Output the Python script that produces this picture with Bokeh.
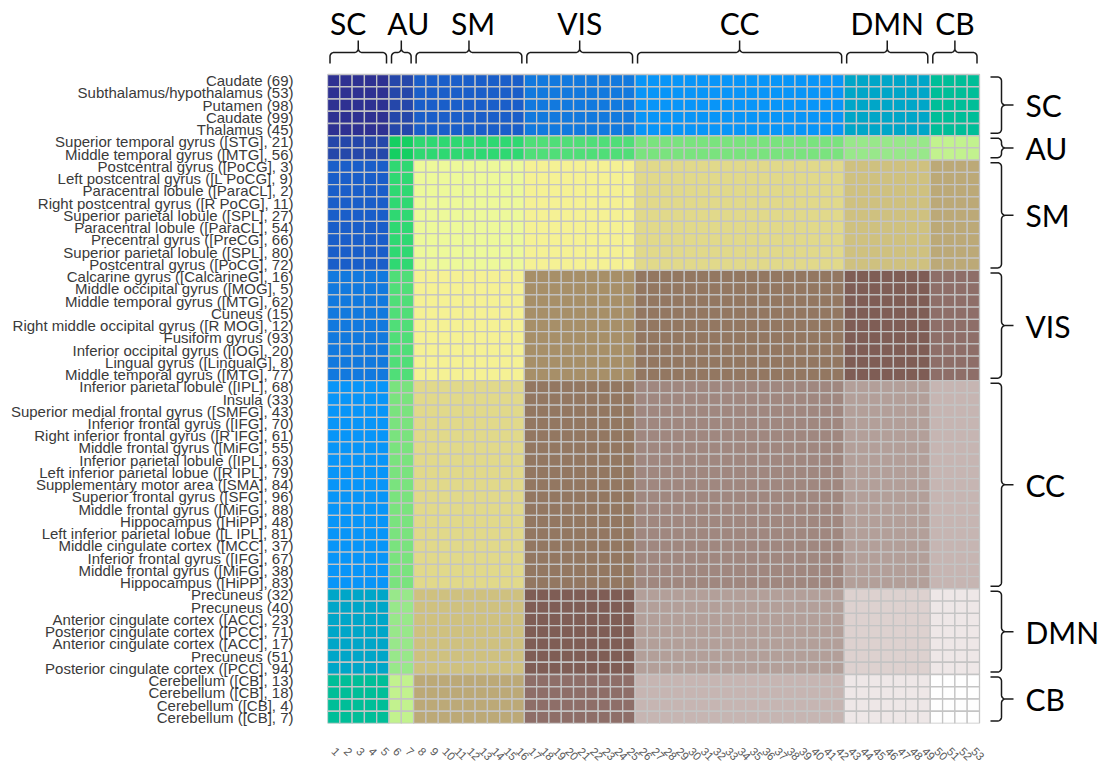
import math
import numpy as np
from bokeh.plotting import figure
from bokeh.models import Range1d, FixedTicker, ColumnDataSource
from bokeh.core.properties import value
from bokeh.embed import file_html
from bokeh.resources import INLINE

# Functional networks and how many regions each one holds (in matrix order)
groups = ["SC", "AU", "SM", "VIS", "CC", "DMN", "CB"]
group_sizes = [5, 2, 9, 9, 17, 7, 4]

# Region names, top to bottom
region_labels = [
    "Caudate (69)",
    "Subthalamus/hypothalamus (53)",
    "Putamen (98)",
    "Caudate (99)",
    "Thalamus (45)",
    "Superior temporal gyrus ([STG], 21)",
    "Middle temporal gyrus ([MTG], 56)",
    "Postcentral gyrus ([PoCG], 3)",
    "Left postcentral gyrus ([L PoCG], 9)",
    "Paracentral lobule ([ParaCL], 2)",
    "Right postcentral gyrus ([R PoCG], 11)",
    "Superior parietal lobule ([SPL], 27)",
    "Paracentral lobule ([ParaCL], 54)",
    "Precentral gyrus ([PreCG], 66)",
    "Superior parietal lobule ([SPL], 80)",
    "Postcentral gyrus ([PoCG], 72)",
    "Calcarine gyrus ([CalcarineG], 16)",
    "Middle occipital gyrus ([MOG], 5)",
    "Middle temporal gyrus ([MTG], 62)",
    "Cuneus (15)",
    "Right middle occipital gyrus ([R MOG], 12)",
    "Fusiform gyrus (93)",
    "Inferior occipital gyrus ([IOG], 20)",
    "Lingual gyrus ([LingualG], 8)",
    "Middle temporal gyrus ([MTG], 77)",
    "Inferior parietal lobule ([IPL], 68)",
    "Insula (33)",
    "Superior medial frontal gyrus ([SMFG], 43)",
    "Inferior frontal gyrus ([IFG], 70)",
    "Right inferior frontal gyrus ([R IFG], 61)",
    "Middle frontal gyrus ([MiFG], 55)",
    "Inferior parietal lobule ([IPL], 63)",
    "Left inferior parietal lobue ([R IPL], 79)",
    "Supplementary motor area ([SMA], 84)",
    "Superior frontal gyrus ([SFG], 96)",
    "Middle frontal gyrus ([MiFG], 88)",
    "Hippocampus ([HiPP], 48)",
    "Left inferior parietal lobue ([L IPL], 81)",
    "Middle cingulate cortex ([MCC], 37)",
    "Inferior frontal gyrus ([IFG], 67)",
    "Middle frontal gyrus ([MiFG], 38)",
    "Hippocampus ([HiPP], 83)",
    "Precuneus (32)",
    "Precuneus (40)",
    "Anterior cingulate cortex ([ACC], 23)",
    "Posterior cingulate cortex ([PCC], 71)",
    "Anterior cingulate cortex ([ACC], 17)",
    "Precuneus (51)",
    "Posterior cingulate cortex ([PCC], 94)",
    "Cerebellum ([CB], 13)",
    "Cerebellum ([CB], 18)",
    "Cerebellum ([CB], 4)",
    "Cerebellum ([CB], 7)",
]

# Network-by-network block colours, upper triangle (row network vs. this and later networks)
block_colors = [
    ["#2e3192", "#2547aa", "#1a5ec9", "#1279de", "#0895f8", "#00a6c8", "#00be98"],
    ["#15cf62", "#2fd872", "#50de78", "#7ae37e", "#98e88a", "#c2f28e"],
    ["#edf99a", "#f5f194", "#e1d98a", "#cfc17f", "#bca977"],
    ["#a78f68", "#937761", "#7f5d55", "#8e6e68"],
    ["#a0877f", "#b39f99", "#c6b5b2"],
    ["#ddd1cf", "#eee7e7"],
    ["#fefefe"],
]

N = len(region_labels)
membership = np.repeat(np.arange(len(groups)), group_sizes)

# ---- layout (pixels) ----
LEFT, FRAME_W, FRAME_H, BOTTOM = 327, 784, 723, 46
MAT_W, MAT_H = 652.0, 649.0
px = N / MAT_W          # data units per horizontal pixel
py = N / MAT_H          # data units per vertical pixel
# horizontal nudges (px) that keep the narrow top headings from touching
top_nudge = {"SC": -10, "AU": 7, "SM": 4}

p = figure(
    frame_width=FRAME_W, frame_height=FRAME_H,
    x_range=Range1d(0.5, 0.5 + FRAME_W * px),
    y_range=Range1d(0.5, 0.5 + FRAME_H * py),
    min_border_left=LEFT, min_border_bottom=BOTTOM,
    min_border_right=0, min_border_top=0,
    output_backend="svg", toolbar_location=None, tools="",
    background_fill_color="white", border_fill_color="white",
)
p.outline_line_color = None
p.grid.visible = False

# ---- heat-map cells ----
xs, ys, cols = [], [], []
for r in range(N):
    for c in range(N):
        a, b = sorted((membership[r], membership[c]))
        xs.append(c + 1)
        ys.append(N - r)
        cols.append(block_colors[a][b - a])
src = ColumnDataSource(dict(x=xs, y=ys, color=cols))
p.rect("x", "y", width=1, height=1, source=src, fill_color="color",
       line_color="#c4c4c4", line_width=1.3)

# ---- axes ----
p.yaxis.ticker = FixedTicker(ticks=list(range(1, N + 1)))
p.yaxis.major_label_overrides = {N - i: lab for i, lab in enumerate(region_labels)}
p.yaxis.axis_line_color = None
p.yaxis.major_tick_line_color = None
p.yaxis.minor_tick_line_color = None
p.yaxis.major_label_standoff = 28
p.yaxis.major_label_text_font = "Liberation Sans"
p.yaxis.major_label_text_font_size = "15px"
p.yaxis.major_label_text_color = "#3a3a3a"

p.xaxis.ticker = FixedTicker(ticks=list(range(1, N + 1)))
p.xaxis.axis_line_color = None
p.xaxis.major_tick_line_color = None
p.xaxis.minor_tick_line_color = None
p.xaxis.major_label_orientation = -math.pi / 4
p.xaxis.major_label_standoff = 20
p.xaxis.major_label_text_font = "Liberation Sans"
p.xaxis.major_label_text_font_size = "11.5px"
p.xaxis.major_label_text_color = "#5a5a5a"


# ---- network braces ----
def brace(s0, s1, d_end=11.0, d_line=22.0, d_tip=34.0, r=4.0, n=8):
    """Curly brace as (along, outward) pixel pairs."""
    c = (s0 + s1) / 2
    pts = [(s0, d_end), (s0, d_line - r)]
    t = np.linspace(math.pi, math.pi / 2, n)
    pts += [(s0 + r + r * math.cos(a), d_line - r + r * math.sin(a)) for a in t]
    pts.append((c - r, d_line))
    t = np.linspace(-math.pi / 2, 0, n)
    pts += [(c - r + r * math.cos(a), d_line + r + r * math.sin(a)) for a in t]
    pts.append((c, d_tip))
    pts.append((c, d_line + r))
    t = np.linspace(math.pi, 3 * math.pi / 2, n)
    pts += [(c + r + r * math.cos(a), d_line + r + r * math.sin(a)) for a in t]
    pts.append((s1 - r, d_line))
    t = np.linspace(math.pi / 2, 0, n)
    pts += [(s1 - r + r * math.cos(a), d_line - r + r * math.sin(a)) for a in t]
    pts.append((s1, d_end))
    return pts


edges = np.concatenate([[0], np.cumsum(group_sizes)])
gap = 2.5
top_x, top_y, right_x, right_y = [], [], [], []
lab_top_x, lab_top_y, lab_right_x, lab_right_y = [], [], [], []
for g, name in enumerate(groups):
    s0 = edges[g] * MAT_W / N + gap
    s1 = edges[g + 1] * MAT_W / N - gap
    pts = brace(s0, s1)
    top_x.append([0.5 + s * px for s, d in pts])
    top_y.append([N + 0.5 + d * py for s, d in pts])
    t0 = edges[g] * MAT_H / N + gap
    t1 = edges[g + 1] * MAT_H / N - gap
    pts = brace(t0, t1)
    right_x.append([N + 0.5 + d * px for s, d in pts])
    right_y.append([N + 0.5 - s * py for s, d in pts])
    mid = (edges[g] + edges[g + 1]) / 2
    lab_top_x.append(0.5 + mid + top_nudge.get(name, 0) * px)
    lab_top_y.append(N + 0.5 + 52 * py)
    lab_right_x.append(N + 0.5 + 46 * px)
    lab_right_y.append(N + 0.5 - mid)

p.multi_line(top_x, top_y, line_color="#1a1a1a", line_width=1.5)
p.multi_line(right_x, right_y, line_color="#1a1a1a", line_width=1.5)

p.text(lab_top_x, lab_top_y, text=groups, text_font=value("Lato"),
       text_font_size="30px", text_color="black",
       text_align="center", text_baseline="alphabetic")
p.text(lab_right_x, lab_right_y, text=groups, text_font=value("Lato"),
       text_font_size="30px", text_color="black",
       text_align="left", text_baseline="middle")

open("out.html", "w").write(file_html(p, INLINE))
